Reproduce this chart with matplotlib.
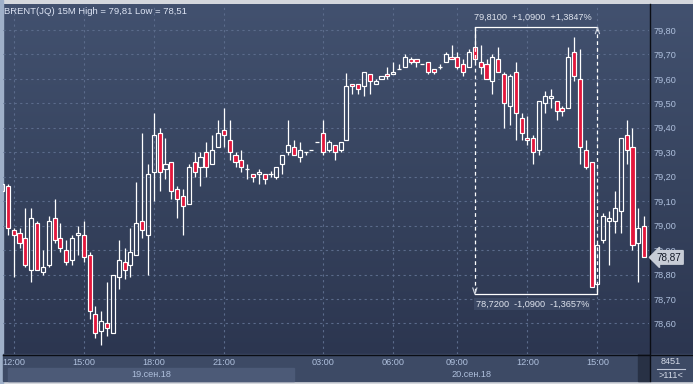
import matplotlib
matplotlib.use("Agg")
import matplotlib.pyplot as plt
import numpy as np
from matplotlib.patches import Rectangle
from matplotlib.colors import LinearSegmentedColormap
import matplotlib.transforms as mtransforms

# ---------------- data ----------------
opens = [79.14, 79.16, 78.98, 78.97, 78.95, 78.82, 79.01, 78.81, 78.84, 79.03,
         78.95, 78.90, 78.86, 78.96, 78.96, 78.88, 78.64, 78.57, 78.60, 78.56,
         78.79, 78.85, 78.84, 78.88, 79.02, 78.96, 79.22, 79.38, 79.23, 79.26,
         79.15, 79.12, 79.09, 79.26, 79.24, 79.30, 79.25, 79.32, 79.39, 79.35,
         79.29, 79.27, 79.23, 79.21, 79.21, 79.21, 79.21, 79.20, 79.25, 79.30,
         79.32, 79.28, 79.30, 79.31, 79.34, 79.38, 79.31, 79.33, 79.31, 79.35,
         79.58, 79.58, 79.57, 79.62, 79.58, 79.60, 79.62, 79.62, 79.64, 79.65,
         79.68, 79.68, 79.66, 79.67, 79.64, 79.65, 79.67, 79.69, 79.69, 79.66,
         79.65, 79.73, 79.67, 79.66, 79.59, 79.68, 79.62, 79.49, 79.63, 79.44,
         79.36, 79.36, 79.31, 79.50, 79.52, 79.51, 79.48, 79.48, 79.71, 79.60,
         79.31, 79.26, 78.76, 78.94, 79.02, 79.02, 79.06, 79.37, 79.32, 78.93,
         79.00]
highs = [79.17, 79.17, 78.99, 78.99, 79.07, 79.07, 79.02, 78.90, 79.04, 79.11,
         79.01, 78.94, 78.96, 79.00, 79.02, 78.89, 78.67, 78.65, 78.77, 78.80,
         78.94, 78.91, 78.99, 79.18, 79.38, 79.25, 79.46, 79.40, 79.36, 79.26,
         79.16, 79.15, 79.25, 79.30, 79.30, 79.34, 79.37, 79.43, 79.48, 79.43,
         79.30, 79.31, 79.25, 79.21, 79.23, 79.21, 79.225, 79.24, 79.29, 79.43,
         79.35, 79.34, 79.30, 79.31, 79.34, 79.43, 79.35, 79.33, 79.34, 79.625,
         79.58, 79.58, 79.63, 79.62, 79.60, 79.61, 79.65, 79.67, 79.66, 79.70,
         79.69, 79.68, 79.66, 79.67, 79.64, 79.66, 79.71, 79.74, 79.71, 79.68,
         79.72, 79.81, 79.74, 79.68, 79.70, 79.73, 79.63, 79.62, 79.67, 79.46,
         79.45, 79.37, 79.51, 79.55, 79.56, 79.51, 79.49, 79.73, 79.77, 79.72,
         79.35, 79.26, 78.93, 79.05, 79.06, 79.14, 79.36, 79.43, 79.40, 79.07,
         79.04]
lows = [79.14, 78.96, 78.79, 78.91, 78.83, 78.77, 78.82, 78.80, 78.83, 78.93,
        78.89, 78.84, 78.84, 78.88, 78.85, 78.62, 78.54, 78.51, 78.55, 78.56,
        78.74, 78.78, 78.79, 78.88, 78.95, 78.80, 79.10, 79.14, 79.19, 79.11,
        79.03, 78.96, 79.09, 79.20, 79.16, 79.20, 79.25, 79.32, 79.32, 79.27,
        79.24, 79.22, 79.19, 79.18, 79.17, 79.17, 79.20, 79.19, 79.21, 79.29,
        79.29, 79.26, 79.29, 79.31, 79.34, 79.29, 79.30, 79.27, 79.30, 79.35,
        79.54, 79.54, 79.53, 79.54, 79.58, 79.60, 79.60, 79.62, 79.64, 79.65,
        79.66, 79.65, 79.66, 79.62, 79.62, 79.64, 79.67, 79.68, 79.64, 79.61,
        79.65, 79.67, 79.62, 79.60, 79.54, 79.63, 79.40, 79.41, 79.35, 79.35,
        79.33, 79.25, 79.29, 79.46, 79.48, 79.43, 79.45, 79.48, 79.59, 79.25,
        79.23, 78.75, 78.72, 78.93, 78.84, 78.97, 78.97, 79.25, 78.90, 78.77,
        78.87]
closes = [79.17, 78.99, 78.96, 78.93, 78.84, 79.03, 78.82, 78.83, 79.02, 78.94,
          78.91, 78.85, 78.95, 78.97, 78.87, 78.65, 78.56, 78.61, 78.58, 78.80,
          78.86, 78.82, 78.89, 79.01, 78.98, 79.21, 79.37, 79.22, 79.25, 79.14,
          79.11, 79.08, 79.24, 79.22, 79.28, 79.24, 79.31, 79.38, 79.37, 79.30,
          79.26, 79.24, 79.23, 79.20, 79.22, 79.19, 79.21, 79.24, 79.29, 79.33,
          79.29, 79.31, 79.30, 79.31, 79.34, 79.30, 79.34, 79.30, 79.34, 79.57,
          79.57, 79.56, 79.63, 79.59, 79.59, 79.61, 79.61, 79.63, 79.64, 79.69,
          79.67, 79.67, 79.66, 79.63, 79.63, 79.65, 79.70, 79.68, 79.65, 79.63,
          79.71, 79.68, 79.65, 79.60, 79.69, 79.63, 79.50, 79.61, 79.46, 79.38,
          79.35, 79.30, 79.51, 79.53, 79.53, 79.47, 79.47, 79.69, 79.61, 79.32,
          79.24, 78.75, 78.92, 79.04, 79.03, 79.07, 79.36, 79.31, 78.92, 78.99,
          78.87]

time_tick_idx = [2, 14, 26, 38, 55, 67, 78, 90, 102]
time_tick_lbl = ["12:00", "15:00", "18:00", "21:00", "03:00", "06:00", "09:00", "12:00", "15:00"]
price_ticks = [78.60, 78.70, 78.80, 78.90, 79.00, 79.10, 79.20, 79.30, 79.40, 79.50, 79.60, 79.70, 79.80]
day_labels = ["19.сен.18", "20.сен.18"]
day_bounds = [(1, 50), (50, 111)]
measure_idx = [81, 102]
measure_top_txt = "79,8100  +1,0900  +1,3847%"
measure_bot_txt = "78,7200  -1,0900  -1,3657%"
title = "BRENT(JQ) 15M"
corner_top = "8451"

# ---------------- style ----------------
plt.rcParams['font.family'] = ['Liberation Sans', 'DejaVu Sans']
FS = 6.6
RED = '#e3173c'
WHITE = '#ffffff'
LBL = '#aebfdc'
W, H = 693, 384
AX_L, AX_R, AX_T, AX_B = 3, 649, 4, 354

fig = plt.figure(figsize=(W / 100, H / 100), dpi=100)
fig.patch.set_facecolor('#d4d7dd')

bg = fig.add_axes([0, 0, 1, 1], zorder=-10)
bg.set_xlim(0, W)
bg.set_ylim(H, 0)
bg.axis('off')
cmap = LinearSegmentedColormap.from_list('g', ['#42516f', '#37445f', '#2c3650'])
grad = np.linspace(0, 1, 256)[:, None]
bg.imshow(grad, extent=(AX_L, W, AX_B + 1, AX_T), cmap=cmap, aspect='auto',
          interpolation='bilinear', zorder=0)
bg.add_patch(Rectangle((0, 0), AX_L, H, color='#9fb0c9', zorder=1))
bg.add_patch(Rectangle((AX_L, AX_B), W - AX_L, 381 - AX_B, color='#3d4a65', zorder=1))
bg.add_patch(Rectangle((638, AX_B), AX_R - 638, 381 - AX_B, color='#283145', zorder=2))
bg.plot([AX_R + 0.5, AX_R + 0.5], [AX_T, 381], color='#0a0d14', lw=1.0, zorder=5)
bg.plot([AX_L, W], [AX_B + 0.5, AX_B + 0.5], color='#0a0d14', lw=1.0, zorder=5)
hdr = f"{title} High = {max(highs):.2f} Low = {min(lows):.2f}".replace('.', ',')
bg.text(4, 11, hdr, color='#dde4f4', fontsize=FS + 0.2, ha='left', va='center', zorder=6)
bg.text(671, 362, corner_top, color='#d3d9e6', fontsize=FS, ha='center', va='center', zorder=6)
bg.plot([657, 685], [368.5, 368.5], color='#c0c8d8', lw=0.8, zorder=6)
bg.text(671, 376, f">{len(closes)}<", color='#d3d9e6', fontsize=FS, ha='center', va='center', zorder=6)

ax = fig.add_axes([AX_L / W, (H - AX_B) / H, (AX_R - AX_L) / W, (AX_B - AX_T) / H], zorder=1)
ax.set_facecolor('none')
for s in ax.spines.values():
    s.set_visible(False)

n = len(closes)
xs = np.arange(n)
o = np.array(opens); c = np.array(closes); h = np.array(highs); l = np.array(lows)
top = np.maximum(o, c); bot = np.minimum(o, c)
bw = 0.7

# wicks (split so they don't cross hollow bodies)
ax.vlines(xs, top, h, color=WHITE, lw=0.9, zorder=3)
ax.vlines(xs, l, bot, color=WHITE, lw=0.9, zorder=3)
down = c < o
up = c > o
flat = c == o
ax.bar(xs[down], (top - bot)[down], bottom=bot[down], width=bw, color=RED,
       edgecolor=WHITE, linewidth=0.85, zorder=4)
ax.bar(xs[up], (top - bot)[up], bottom=bot[up], width=bw, facecolor='none',
       edgecolor=WHITE, linewidth=0.85, zorder=4)
ax.hlines(c[flat], xs[flat] - bw / 2, xs[flat] + bw / 2, color=WHITE, lw=0.9, zorder=4)

ax.set_xlim(0.17, 110.83)
ax.set_ylim(78.475, 79.906)

# grid
for xi in time_tick_idx:
    ax.axvline(xi, color='#5b6b8b', lw=0.8, dashes=(2, 3), zorder=1)
for p in price_ticks:
    ax.axhline(p, color='#5b6b8b', lw=0.8, dashes=(2, 3), zorder=1)

ax.set_xticks(time_tick_idx)
ax.set_xticklabels(time_tick_lbl)
ax.yaxis.tick_right()
ax.set_yticks(price_ticks)
ax.set_yticklabels([f"{p:.2f}".replace('.', ',') for p in price_ticks])
ax.tick_params(axis='both', length=0, colors=LBL, labelsize=FS)
ax.tick_params(axis='y', pad=3)
ax.tick_params(axis='x', pad=3.2)

# day bands
trans = mtransforms.blended_transform_factory(ax.transData, ax.transAxes)
y0 = -(381 - AX_B) / (AX_B - AX_T)
y1 = -(368 - AX_B) / (AX_B - AX_T)
for i, (lab, (a, b)) in enumerate(zip(day_labels, day_bounds)):
    if i == 0:
        ax.add_patch(Rectangle((a, y0), b - a, y1 - y0, transform=trans,
                               color='#4c5a77', clip_on=False, zorder=0))
    ax.text((a + b) / 2, (y0 + y1) / 2, lab, transform=trans, ha='center', va='center',
            color=LBL, fontsize=FS, clip_on=False)

# measurement tool
i0, i1 = measure_idx
p_hi = h[i0]
p_lo = l[i1]
ax.plot([i0, i1], [p_hi, p_hi], color=WHITE, lw=0.9, zorder=5)
ax.plot([i0, i1], [p_lo, p_lo], color=WHITE, lw=0.9, zorder=5)
ax.plot([i0, i0], [p_hi, p_lo], color=WHITE, lw=0.9, dashes=(3, 2.5), zorder=5)
ax.plot([i1, i1], [p_hi, p_lo], color=WHITE, lw=0.9, dashes=(3, 2.5), zorder=5)
ax.plot([i0 - 0.35, i0, i0 + 0.35], [p_lo + 0.025, p_lo, p_lo + 0.025], color='#cfd5e0', lw=0.8, zorder=5)
ax.plot([i1 - 0.35, i1, i1 + 0.35], [p_hi - 0.025, p_hi, p_hi - 0.025], color='#cfd5e0', lw=0.8, zorder=5)
ax.annotate(measure_top_txt, (i0, p_hi), xytext=(-0.5, 4), textcoords='offset points',
            ha='left', va='bottom', color='#dfe4ee', fontsize=FS, zorder=6)
ax.annotate(measure_bot_txt, (i0, p_lo), xytext=(0.5, -4), textcoords='offset points',
            ha='left', va='top', color='#dfe4ee', fontsize=FS, zorder=6,
            bbox=dict(boxstyle='square,pad=0.15', fc='#3b4864', ec='none'))

# last price tag
ax.annotate(f"{c[-1]:.2f}".replace('.', ','), (1.0, c[-1]),
            xycoords=('axes fraction', 'data'), xytext=(5.5, 0), textcoords='offset points',
            ha='left', va='center', color='#141a28', fontsize=FS + 0.6, zorder=10,
            annotation_clip=False,
            bbox=dict(boxstyle='larrow,pad=0.18', fc='#c7ccd6', ec='#c7ccd6'))

fig.savefig('out.png', dpi=100, facecolor=fig.get_facecolor())
